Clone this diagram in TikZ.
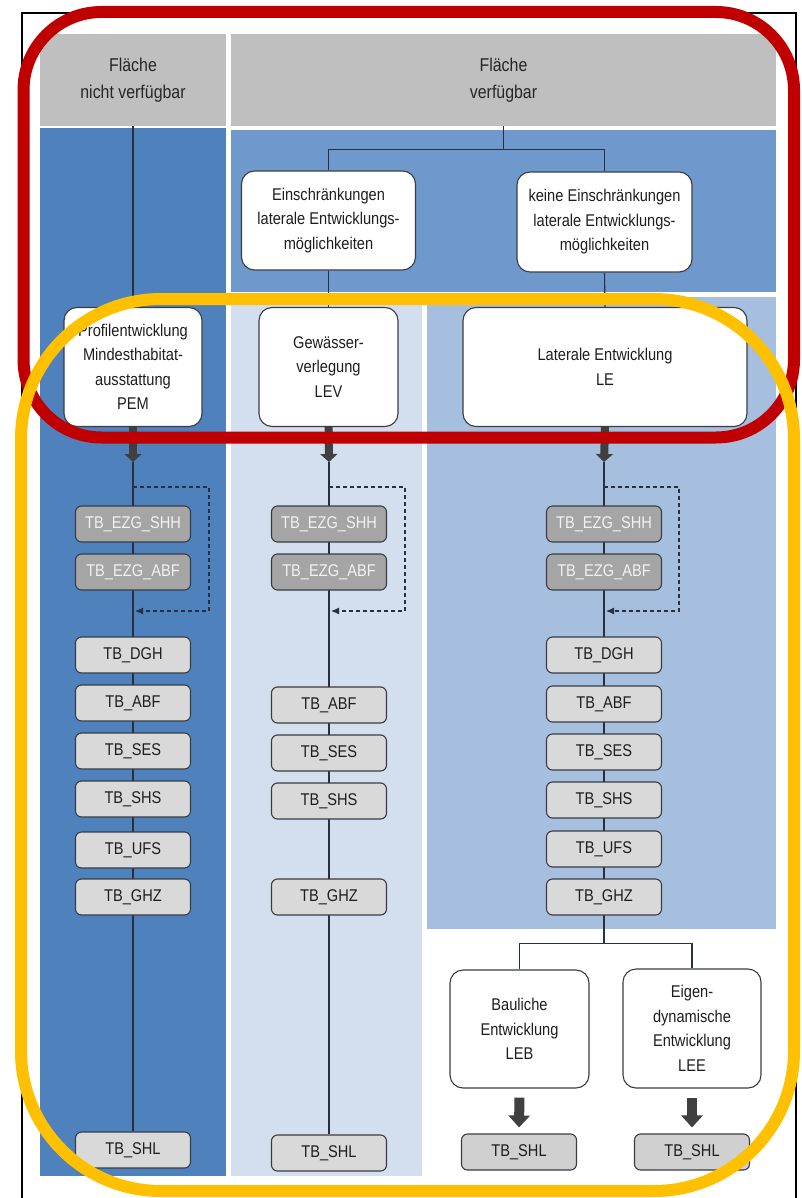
\documentclass[tikz,border=0pt]{standalone}
\usepackage{fontspec}
\setmainfont{Liberation Sans}[FakeStretch=0.86]
\usetikzlibrary{arrows.meta}
\definecolor{hdrgray}{HTML}{BFBFBF}
\definecolor{darkblue}{HTML}{4F81BD}
\definecolor{midblue}{HTML}{6F99CC}
\definecolor{lightblue}{HTML}{D3DFEF}
\definecolor{rightblue}{HTML}{A6BFDF}
\definecolor{boxline}{HTML}{383C44}
\definecolor{tbgray}{HTML}{D9D9D9}
\definecolor{shlgray}{HTML}{D0D0D0}
\definecolor{ezggray}{HTML}{A5A5A5}
\definecolor{ezgtext}{HTML}{F2F2F2}
\definecolor{tbtext}{HTML}{1E1E1E}
\definecolor{flowline}{HTML}{26303F}
\definecolor{arrowgray}{HTML}{404040}
\definecolor{markred}{HTML}{C00000}
\definecolor{markyellow}{HTML}{FFC000}
\pgfdeclarelayer{panels}
\pgfdeclarelayer{lines}
\pgfdeclarelayer{top}
\pgfsetlayers{panels,lines,main,top}
\begin{document}
\begin{tikzpicture}[x=1pt,y=-1pt,
  every node/.style={font=\fontsize{17}{24.5}\selectfont, align=center, inner sep=0pt, text=tbtext},
  hdr/.style={fill=hdrgray, minimum height=92pt, font=\fontsize{18.5}{27}\selectfont, text=black!85},
  bigbox/.style={draw=boxline, line width=1.1pt, fill=white, rounded corners=13pt},
  tbbox/.style={draw=boxline, line width=1.1pt, fill=tbgray, rounded corners=6pt, minimum width=115pt, minimum height=36pt},
  ezgbox/.style={tbbox, fill=ezggray, text=ezgtext},
  flow/.style={draw=flowline, line width=1.1pt},
  dashloop/.style={draw=flowline, line width=1.1pt, dash pattern=on 4pt off 3pt, -{Latex[length=8pt,width=7pt]}},
  fatarrow/.style={draw=arrowgray, line width=8pt, -{Triangle[width=17pt,length=8pt]}},
  fatarrowb/.style={draw=arrowgray, line width=10pt, -{Triangle[width=21pt,length=12pt]}},
  markframe/.style={line width=12pt}
]
\useasboundingbox (0,0) rectangle (802,1198);

% panels
\begin{pgfonlayer}{panels}
\fill[white] (0,0) rectangle (802,1198);
\draw[black, line width=1.2pt] (22,1210) -- (22,13) -- (796,13) -- (796,1210);
\fill[darkblue] (40,128) rectangle (226,1176);
\fill[midblue] (231,130) rectangle (776,292);
\fill[lightblue] (231,297) rectangle (422,1176);
\fill[rightblue] (427,297) rectangle (776,929);
\end{pgfonlayer}

% headers
\node[hdr, minimum width=186pt] (hdrL) at (133,80) {Fläche\\nicht verfügbar};
\node[hdr, minimum width=545pt] (hdrR) at (503.5,80) {Fläche\\verfügbar};

% decision boxes
\node[bigbox, minimum width=174pt, minimum height=99pt] (einL) at (328.5,220.5) {Einschränkungen\\laterale Entwicklungs-\\möglichkeiten};
\node[bigbox, minimum width=175pt, minimum height=100pt] (keine) at (604.5,222) {keine Einschränkungen\\laterale Entwicklungs-\\möglichkeiten};

% main measure boxes
\node[bigbox, minimum width=138pt, minimum height=119pt] (pem) at (133,367) {Profilentwicklung\\Mindesthabitat-\\ausstattung\\PEM};
\node[bigbox, minimum width=139pt, minimum height=119pt] (lev) at (328.5,367) {Gewässer-\\verlegung\\LEV};
\node[bigbox, minimum width=284pt, minimum height=119pt] (le) at (605,367) {Laterale Entwicklung\\LE};

% left column
\node[ezgbox] (shhL) at (133,524) {TB\_EZG\_SHH};
\node[ezgbox] (abfeL) at (133,572) {TB\_EZG\_ABF};
\node[tbbox] (dghL) at (133,655) {TB\_DGH};
\node[tbbox] (abfL) at (133,703) {TB\_ABF};
\node[tbbox] (sesL) at (133,751) {TB\_SES};
\node[tbbox] (shsL) at (133,799) {TB\_SHS};
\node[tbbox] (ufsL) at (133,850) {TB\_UFS};
\node[tbbox] (ghzL) at (133,897) {TB\_GHZ};
\node[tbbox] (shlL) at (133,1150) {TB\_SHL};

% middle column
\node[ezgbox] (shhM) at (329,524) {TB\_EZG\_SHH};
\node[ezgbox] (abfeM) at (329,572) {TB\_EZG\_ABF};
\node[tbbox] (abfM) at (329,705) {TB\_ABF};
\node[tbbox] (sesM) at (329,753) {TB\_SES};
\node[tbbox] (shsM) at (329,801) {TB\_SHS};
\node[tbbox] (ghzM) at (329,897) {TB\_GHZ};
\node[tbbox] (shlM) at (329,1153) {TB\_SHL};

% right column
\node[ezgbox] (shhR) at (604,524) {TB\_EZG\_SHH};
\node[ezgbox] (abfeR) at (604,572) {TB\_EZG\_ABF};
\node[tbbox] (dghR) at (604,655) {TB\_DGH};
\node[tbbox] (abfR) at (604,704) {TB\_ABF};
\node[tbbox] (sesR) at (604,752) {TB\_SES};
\node[tbbox] (shsR) at (604,800) {TB\_SHS};
\node[tbbox] (ufsR) at (604,849) {TB\_UFS};
\node[tbbox] (ghzR) at (604,897) {TB\_GHZ};

\node[bigbox, minimum width=139pt, minimum height=118pt] (leb) at (519.5,1029) {Bauliche\\Entwicklung\\LEB};
\node[bigbox, minimum width=138pt, minimum height=119pt] (lee) at (692,1028.5) {Eigen-\\dynamische\\Entwicklung\\LEE};
\node[tbbox, fill=shlgray] (shlB) at (519,1152) {TB\_SHL};
\node[tbbox, fill=shlgray] (shlE) at (692,1152) {TB\_SHL};

% coordinates
\coordinate (aL) at (133,462);
\coordinate (aM) at (329,462);
\coordinate (aR) at (604,462);
\coordinate (dLa) at (133,487); \coordinate (dLc) at (209,611); \coordinate (dLd) at (135,611);
\coordinate (dMa) at (329,487); \coordinate (dMc) at (405,611); \coordinate (dMd) at (331,611);
\coordinate (dRa) at (604,487); \coordinate (dRc) at (679,611); \coordinate (dRd) at (606,611);

\begin{pgfonlayer}{lines}
\draw[flow] (hdrL.south) -- (pem.north);
\draw[flow] (hdrR.south) -- ++(0,23) coordinate (split);
\draw[flow] (einL.north) |- (split) -| (keine.north);
\draw[flow] (einL.south) -- (lev.north);
\draw[flow] (keine.south) -- (le.north);
\draw[flow] (aL) -- (shlL.north);
\draw[flow] (aM) -- (shlM.north);
\draw[flow] (aR) -- (ghzR.south);
\draw[flow] (ghzR.south) -- ++(0,28) coordinate (split2);
\draw[flow] (leb.north) |- (split2) -| (lee.north);
\end{pgfonlayer}

% dashed loops
\draw[dashloop] (dLa) -| (dLc) -- (dLd);
\draw[dashloop] (dMa) -| (dMc) -- (dMd);
\draw[dashloop] (dRa) -| (dRc) -- (dRd);

% fat arrows
\draw[fatarrow] (pem.south) -- (aL);
\draw[fatarrow] (lev.south) -- (aM);
\draw[fatarrow] (le.south) -- (aR);
\draw[fatarrowb, shorten <=9pt, shorten >=6pt] (leb.south) -- (shlB.north);
\draw[fatarrowb, shorten <=9pt, shorten >=6pt] (lee.south) -- (shlE.north);

% highlight frames (true circular corners; y axis points down)
\begin{pgfonlayer}{top}
\draw[markframe, markred]
  (23.5,90) arc[start angle=180, end angle=270, radius=78]
  -- (716,12) arc[start angle=270, end angle=360, radius=78]
  -- (794,359.5) arc[start angle=0, end angle=90, radius=78]
  -- (101.5,437.5) arc[start angle=90, end angle=180, radius=78]
  -- cycle;
\draw[markframe, markyellow]
  (21,439) arc[start angle=180, end angle=270, radius=140]
  -- (654,299) arc[start angle=270, end angle=360, radius=140]
  -- (794,1051) arc[start angle=0, end angle=90, radius=140]
  -- (161,1191) arc[start angle=90, end angle=180, radius=140]
  -- cycle;
\end{pgfonlayer}
\end{tikzpicture}
\end{document}
